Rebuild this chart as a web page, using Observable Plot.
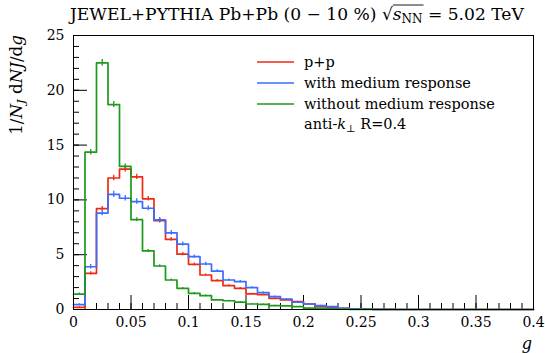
<!DOCTYPE html>
<html><head><meta charset="utf-8">
<script src="https://cdn.jsdelivr.net/npm/d3@7"></script>
<script src="https://cdn.jsdelivr.net/npm/@observablehq/plot@0.6"></script>
<style>
body{margin:0;background:#fff}
svg text, svg tspan{font-family:"DejaVu Serif","Liberation Serif",serif !important}
</style>
</head><body><div id="chart"></div>
<script>
// bin edges (width 0.01 from 0 to 0.4)
const binEdges = [0,0.01,0.02,0.03,0.04,0.05,0.06,0.07,0.08,0.09,0.1,0.11,0.12,0.13,0.14,0.15,0.16,0.17,0.18,0.19,0.2,0.21,0.22,0.23,0.24,0.25,0.26,0.27,0.28,0.29,0.3,0.31,0.32,0.33,0.34,0.35,0.36,0.37,0.38,0.39,0.4];
const seriesNames = ["p+p", "with medium response", "without medium response"];
const seriesColors = ["#ee2a12", "#3a6cff", "#1c9a1c"];
const ppValues = [0.2,3.3,9.2,12.0,12.8,12.1,10.1,8.1,6.4,5.05,4.12,3.15,2.63,2.17,1.93,1.42,1.35,1.02,0.87,0.71,0.5,0.26,0.16,0.1,0.05,0.03,0.02,0.01,0,0,0,0,0,0,0,0,0,0,0,0];
const withMRValues = [0.45,3.9,8.8,10.5,10.15,9.85,9.24,8.17,7.0,5.97,4.82,4.15,3.5,2.69,2.54,2.0,1.54,1.17,0.96,0.66,0.5,0.35,0.26,0.1,0.06,0.04,0.02,0.01,0,0,0,0,0,0,0,0,0,0,0,0];
const withoutMRValues = [1.4,14.35,22.5,18.7,13.05,8.2,5.34,3.97,2.69,1.93,1.48,1.26,0.87,0.8,0.68,0.5,0.47,0.35,0.33,0.26,0.12,0.1,0.07,0.03,0.02,0.01,0,0,0,0,0,0,0,0,0,0,0,0,0,0];
const ppErrors = [0.05,0.15,0.2,0.25,0.25,0.25,0.2,0.2,0.18,0.15,0.12,0.1,0.1,0.08,0.08,0.06,0.06,0.05,0.05,0.04,0.03,0.02,0.02,0.01];
const withMRErrors = [0.08,0.2,0.25,0.28,0.25,0.25,0.22,0.22,0.2,0.18,0.15,0.15,0.12,0.1,0.1,0.08,0.07,0.06,0.05,0.04,0.04,0.03,0.03,0.02];
const withoutMRErrors = [0.1,0.25,0.3,0.28,0.22,0.18,0.14,0.12,0.1,0.08,0.07,0.06,0.05,0.05,0.04,0.04,0.03,0.03,0.03,0.02,0.02,0.02,0.01,0.01];
const xMajorTicks = [0,0.05,0.1,0.15,0.2,0.25,0.3,0.35,0.4];
const xTickLabels = ["0","0.05","0.1","0.15","0.2","0.25","0.3","0.35","0.4"];
const xMinorTicks = binEdges;
const yMajorTicks = [0,5,10,15,20,25];
const yTickLabels = ["0","5","10","15","20","25"];
const yMinorTicks = [0,1,2,3,4,5,6,7,8,9,10,11,12,13,14,15,16,17,18,19,20,21,22,23,24,25];

const allValues = [ppValues, withMRValues, withoutMRValues];
const allErrors = [ppErrors, withMRErrors, withoutMRErrors];
const stepData = [], errData = [];
allValues.forEach((vals, s) => {
  binEdges.forEach((e, i) => stepData.push({x: e, y: vals[Math.min(i, vals.length - 1)], s}));
  allErrors[s].forEach((err, i) => {
    const c = (binEdges[i] + binEdges[i + 1]) / 2;
    errData.push({x: c, y1: vals[i] - err, y2: vals[i] + err, s});
  });
});

const FONT = "'DejaVu Serif', serif";
const W = 545, H = 353, mL = 73, mR = 12, mT = 35, mB = 44;
const innerW = W - mL - mR, innerH = H - mT - mB;

const marks = [
  Plot.tickX(xMinorTicks, {x: d => d, stroke: "#000", insetTop: innerH - 6}),
  Plot.tickX(xMajorTicks, {x: d => d, stroke: "#000", insetTop: innerH - 14}),
  Plot.tickY(yMinorTicks, {y: d => d, stroke: "#000", insetRight: innerW - 6}),
  Plot.tickY(yMajorTicks, {y: d => d, stroke: "#000", insetRight: innerW - 14}),
  Plot.axisX(xMajorTicks, {tickSize: 0, tickPadding: 8, tickFormat: (d, i) => xTickLabels[i], fontSize: 14, fill: "#000", label: null}),
  Plot.axisY(yMajorTicks, {tickSize: 0, tickPadding: 9, tickFormat: (d, i) => yTickLabels[i], fontSize: 14, fill: "#000", label: null})
];
[0, 1, 2].forEach(s => {
  marks.push(Plot.line(stepData.filter(d => d.s === s), {x: "x", y: "y", curve: "step-after", stroke: seriesColors[s], strokeWidth: 1.7}));
  marks.push(Plot.ruleX(errData.filter(d => d.s === s), {x: "x", y1: "y1", y2: "y2", stroke: seriesColors[s], strokeWidth: 1.3}));
});
marks.push(Plot.frame({stroke: "#000", strokeWidth: 1}));

const chart = Plot.plot({
  width: W, height: H, marginLeft: mL, marginRight: mR, marginTop: mT, marginBottom: mB,
  style: {fontFamily: FONT, fontSize: "14px", background: "#fff", color: "#000", overflow: "visible"},
  x: {domain: [0, 0.4], axis: null},
  y: {domain: [0, 25], axis: null},
  marks
});
document.getElementById("chart").appendChild(chart);

const svg = d3.select(chart);
const addText = (x, y, size) => svg.append("text").attr("x", x).attr("y", y).attr("font-size", size)
  .attr("text-anchor", "start").attr("fill", "#000");
// scale a text's font size so that its length matches the reference width
const fit = (sel, target) => {
  const len = sel.node().getComputedTextLength();
  const fs = +sel.attr("font-size");
  sel.attr("font-size", (fs * target / len).toFixed(2));
};

// title
const title = addText(70, 20, 17);
title.append("tspan").text("JEWEL+PYTHIA Pb+Pb (0 − 10 %) ");
title.append("tspan").text("√");
title.append("tspan").attr("font-style", "italic").text("s");
title.append("tspan").attr("font-size", "0.7em").attr("dy", 3).text("NN");
title.append("tspan").attr("dy", -3).text(" = 5.02 TeV");
fit(title, 454);
const tNode = title.node();
const prefixLen = "JEWEL+PYTHIA Pb+Pb (0 − 10 %) √".length;
const ox0 = tNode.getStartPositionOfChar(prefixLen).x;
const ox1 = tNode.getEndPositionOfChar(prefixLen + 2).x;
svg.append("line").attr("x1", ox0).attr("x2", ox1 + 1).attr("y1", 5).attr("y2", 5).attr("stroke", "#000").attr("stroke-width", 0.9);

// y label
const yl = svg.append("text").attr("transform", "translate(22,35) rotate(-90)").attr("text-anchor", "end")
  .attr("font-size", 17).attr("fill", "#000");
yl.append("tspan").text("1/");
yl.append("tspan").attr("font-style", "italic").text("N");
yl.append("tspan").attr("font-style", "italic").attr("font-size", "0.7em").attr("dy", 3).text("J");
yl.append("tspan").attr("dy", -3).text(" d");
yl.append("tspan").attr("font-style", "italic").text("NJ");
yl.append("tspan").text("/d");
yl.append("tspan").attr("font-style", "italic").text("g");
fit(yl, 100);

// x label
addText(532, 349, 16).attr("text-anchor", "end").attr("font-style", "italic").text("g");

// legend
const legY = [62, 83, 104];
const legTexts = [];
seriesNames.forEach((name, i) => {
  svg.append("line").attr("x1", 257).attr("x2", 294).attr("y1", legY[i]).attr("y2", legY[i]).attr("stroke", seriesColors[i]).attr("stroke-width", 1.3);
  legTexts.push(addText(304, legY[i], 16).attr("dy", "0.32em").text(name));
});
fit(legTexts[1], 167);
const legSize = legTexts[1].attr("font-size");
legTexts.forEach(t => t.attr("font-size", legSize));
const lt = addText(304, 124, legSize).attr("dy", "0.32em");
lt.append("tspan").text("anti-");
lt.append("tspan").attr("font-style", "italic").text("k");
lt.append("tspan").attr("font-size", "0.7em").attr("dy", 3).text("⊥");
lt.append("tspan").attr("dy", -3).text(" R=0.4");
</script>
</body></html>
